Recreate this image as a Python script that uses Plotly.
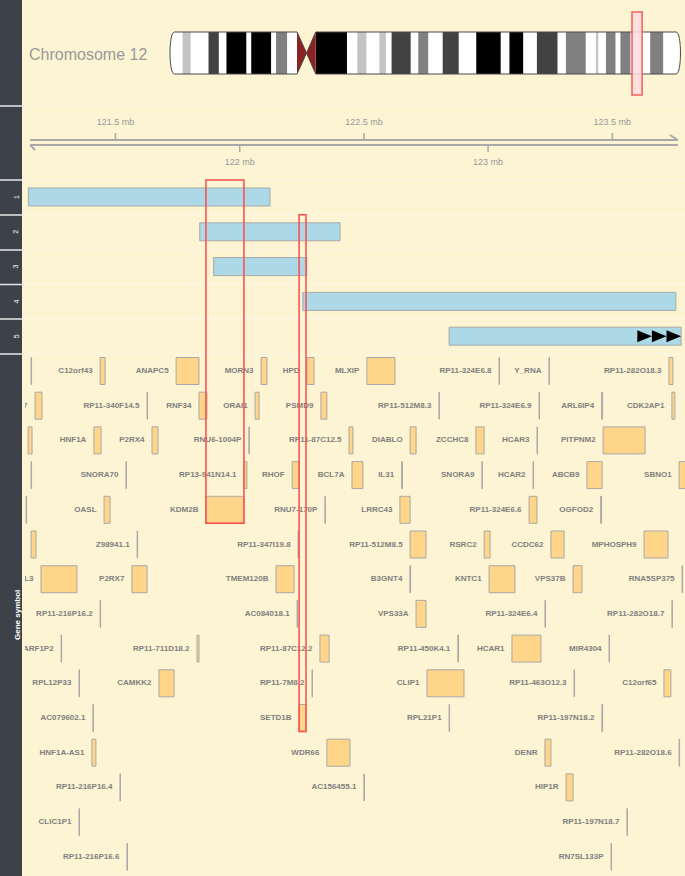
import plotly.graph_objects as go

BG = "#FCF4D2"
STRIP = "#3D4148"
GREY_TXT = "#808080"

# ---- chromosome 12 ideogram bands (Mb) ----
CHR_NAME = "Chromosome 12"
CHR_LEN = 133.85
BAND_START = [0.0, 3.3, 5.4, 10.1, 12.8, 14.8, 20.0, 21.3, 26.5, 27.8,
              30.7, 33.3, 35.8, 38.2, 46.4, 49.1, 51.5, 54.9, 56.6, 58.1,
              63.1, 65.1, 67.7, 71.5, 75.7, 80.3, 86.7, 89.0, 92.6, 96.2,
              101.6, 103.8, 109.0, 111.7, 112.3, 114.3, 116.8, 118.1, 120.7, 125.9,
              129.3]
BAND_END = BAND_START[1:] + [CHR_LEN]
BAND_STAIN = ["gneg", "gpos25", "gneg", "gpos75", "gneg", "gpos100", "gneg", "gpos100", "gneg", "gpos50",
              "gneg", "acen", "acen", "gpos100", "gneg", "gpos25", "gneg", "gpos25", "gneg", "gpos75",
              "gneg", "gpos50", "gneg", "gpos75", "gneg", "gpos100", "gneg", "gpos100", "gneg", "gpos75",
              "gneg", "gpos50", "gneg", "gpos25", "gneg", "gpos50", "gneg", "gpos50", "gneg", "gpos50",
              "gneg"]
BAND_LABEL = "q12"
STAIN_COL = {"gpos25": "#C4C4C4", "gpos50": "#808080", "gpos75": "#424242", "gpos100": "#000000"}

# ---- genomic window (Mb) ----
VIEW_START, VIEW_END = 121.1356, 123.7927
AXIS_START, AXIS_END = 121.156, 123.764
AXIS_TICKS = [121.5, 122.0, 122.5, 123.0, 123.5]
AXIS_LABELS = ["121.5 mb", "122 mb", "122.5 mb", "123 mb", "123.5 mb"]

# ---- numbered region tracks ----
TRACK_NAMES = ["1", "2", "3", "4", "5"]
TRACK_START = [121.149, 121.839, 121.895, 122.254, 122.843]
TRACK_END = [122.122, 122.404, 122.270, 123.756, 123.777]
TRACK_ARROWS = [0, 0, 0, 0, 3]

# ---- gene symbol track ----
GENE_NAMES = [
    "", "C12orf43", "ANAPC5", "MORN3", "HPD", "MLXIP", "RP11-324E6.8", "Y_RNA", "RP11-282O18.3",
    "RP11-173P15.7", "RP11-340F14.5", "RNF34", "ORAI1", "PSMD9", "RP11-512M8.3", "RP11-324E6.9", "ARL6IP4", "CDK2AP1",
    "", "HNF1A", "P2RX4", "RNU6-1004P", "RP11-87C12.5", "DIABLO", "ZCCHC8", "HCAR3", "PITPNM2",
    "", "SNORA70", "RP13-941N14.1", "RHOF", "BCL7A", "IL31", "SNORA9", "HCAR2", "ABCB9", "SBNO1",
    "", "OASL", "KDM2B", "RNU7-170P", "LRRC43", "RP11-324E6.6", "OGFOD2",
    "", "Z98941.1", "RP11-347I19.8", "RP11-512M8.5", "RSRC2", "CCDC62", "MPHOSPH9",
    "SPPL3", "P2RX7", "TMEM120B", "B3GNT4", "KNTC1", "VPS37B", "RNA5SP375",
    "RP11-216P16.2", "AC084018.1", "VPS33A", "RP11-324E6.4", "RP11-282O18.7",
    "ARF1P2", "RP11-711D18.2", "RP11-87C12.2", "RP11-450K4.1", "HCAR1", "MIR4304",
    "RPL12P33", "CAMKK2", "RP11-7M8.2", "CLIP1", "RP11-463O12.3", "C12orf65",
    "AC079602.1", "SETD1B", "RPL21P1", "RP11-197N18.2",
    "HNF1A-AS1", "WDR66", "DENR", "RP11-282O18.6",
    "RP11-216P16.4", "AC156455.1", "HIP1R",
    "CLIC1P1", "RP11-197N18.7",
    "RP11-216P16.6", "RN7SL133P",
]
GENE_START = [
    121.160, 121.438, 121.744, 122.086, 122.271, 122.512, 123.044, 123.245, 123.728,
    121.176, 121.627, 121.836, 122.062, 122.327, 122.802, 123.205, 123.457, 123.740,
    121.148, 121.413, 121.647, 122.037, 122.440, 122.686, 122.951, 123.197, 123.463,
    121.160, 121.542, 122.017, 122.211, 122.452, 122.652, 122.975, 123.181, 123.398, 123.769,
    121.140, 121.454, 121.864, 122.343, 122.645, 123.165, 123.453,
    121.160, 121.587, 122.235, 122.686, 122.984, 123.253, 123.628,
    121.200, 121.566, 122.146, 122.685, 123.004, 123.342, 123.781,
    121.438, 122.231, 122.710, 123.229, 123.740,
    121.281, 121.828, 122.323, 122.878, 123.096, 123.487,
    121.353, 121.675, 122.291, 122.754, 123.346, 123.708,
    121.409, 122.239, 122.843, 123.458,
    121.405, 122.351, 123.229, 123.769,
    121.518, 122.500, 123.314,
    121.353, 123.559,
    121.546, 123.495,
]
GENE_END = [
    121.162, 121.458, 121.836, 122.110, 122.299, 122.625, 123.046, 123.247, 123.744,
    121.204, 121.629, 121.868, 122.078, 122.351, 122.804, 123.207, 123.461, 123.752,
    121.164, 121.442, 121.671, 122.039, 122.456, 122.710, 122.984, 123.199, 123.632,
    121.162, 121.544, 122.029, 122.239, 122.496, 122.655, 122.977, 123.183, 123.459, 123.850,
    121.142, 121.478, 122.017, 122.345, 122.686, 123.197, 123.457,
    121.180, 121.589, 122.237, 122.750, 123.008, 123.306, 123.724,
    121.345, 121.627, 122.219, 122.688, 123.108, 123.378, 123.783,
    121.440, 122.233, 122.750, 123.231, 123.742,
    121.283, 121.836, 122.360, 122.881, 123.213, 123.489,
    121.355, 121.736, 122.293, 122.903, 123.348, 123.736,
    121.411, 122.267, 122.845, 123.461,
    121.421, 122.444, 123.253, 123.771,
    121.520, 122.502, 123.342,
    121.355, 123.561,
    121.548, 123.497,
]
GENE_ROW = ([1] * 9 + [2] * 9 + [3] * 9 + [4] * 10 + [5] * 7 + [6] * 7 + [7] * 7 + [8] * 5
            + [9] * 6 + [10] * 6 + [11] * 4 + [12] * 4 + [13] * 3 + [14] * 2 + [15] * 2)

# highlighted genes and the first numbered track their box starts at
HIGHLIGHT_GENES = ["KDM2B", "SETD1B"]
HIGHLIGHT_FROM_TRACK = [1, 2]

# ---- layout helpers (pixel units on the y axis) ----
W, H = 685, 876
ROW0, ROW_STEP, GENE_HALF = 371.0, 34.7, 13.5
TRACK0, TRACK_STEP, TRACK_HALF = 197.0, 34.8, 9.0
IDEO_TOP, IDEO_BOT = 32.0, 74.0
PX = (VIEW_END - VIEW_START) / (W - 25)   # Mb per pixel
LABEL_GAP = 7.5 * PX
FONT = "Liberation Sans, Arial, sans-serif"
CLEAR = "rgba(0,0,0,0)"


def row_y(r):
    return ROW0 + (r - 1) * ROW_STEP


def track_y(i):
    return TRACK0 + i * TRACK_STEP


fig = go.Figure()
shapes = []

# ---- left title strip ----
shapes.append(dict(type="rect", xref="paper", yref="paper", x0=0, x1=22 / W, y0=0, y1=1,
                   fillcolor=STRIP, line=dict(width=0), layer="above"))
for yy in [106, 180, 215, 250, 284.5, 319, 354]:
    shapes.append(dict(type="line", xref="paper", yref="y", x0=0, x1=22 / W, y0=yy, y1=yy,
                       line=dict(color="#E8E8E8", width=1.5), layer="above"))
    shapes.append(dict(type="line", xref="paper", yref="y", x0=22 / W, x1=1, y0=yy, y1=yy,
                       line=dict(color="rgba(255,255,255,0.45)", width=1), layer="above"))

# ---- ideogram ----
mid = (IDEO_TOP + IDEO_BOT) / 2
cap = 1.15
acen = [i for i, s in enumerate(BAND_STAIN) if s == "acen"]
c0, cm, c1 = BAND_START[acen[0]], BAND_END[acen[0]], BAND_END[acen[-1]]
p_arm = (f"M{cap},{IDEO_TOP} L{c0},{IDEO_TOP} L{cm},{mid} L{c0},{IDEO_BOT} L{cap},{IDEO_BOT} "
         f"C{-cap / 3},{IDEO_BOT} {-cap / 3},{IDEO_TOP} {cap},{IDEO_TOP} Z")
q_arm = (f"M{c1},{IDEO_TOP} L{CHR_LEN - cap},{IDEO_TOP} C{CHR_LEN + cap / 3},{IDEO_TOP} "
         f"{CHR_LEN + cap / 3},{IDEO_BOT} {CHR_LEN - cap},{IDEO_BOT} L{c1},{IDEO_BOT} L{cm},{mid} Z")
for p in (p_arm, q_arm):
    shapes.append(dict(type="path", xref="x2", yref="y", path=p, fillcolor="white",
                       line=dict(width=0), layer="above"))
for s, e, st in zip(BAND_START, BAND_END, BAND_STAIN):
    if st in STAIN_COL:
        shapes.append(dict(type="rect", xref="x2", yref="y", x0=s, x1=e, y0=IDEO_TOP, y1=IDEO_BOT,
                           fillcolor=STAIN_COL[st], line=dict(width=0), layer="above"))
shapes.append(dict(type="path", xref="x2", yref="y",
                   path=f"M{c0},{IDEO_TOP} L{cm},{mid} L{c0},{IDEO_BOT} Z",
                   fillcolor="#8B2323", line=dict(width=0), layer="above"))
shapes.append(dict(type="path", xref="x2", yref="y",
                   path=f"M{c1},{IDEO_TOP} L{cm},{mid} L{c1},{IDEO_BOT} Z",
                   fillcolor="#8B2323", line=dict(width=0), layer="above"))
for p in (p_arm, q_arm):
    shapes.append(dict(type="path", xref="x2", yref="y", path=p, fillcolor=CLEAR,
                       line=dict(color="#4A4A4A", width=1), layer="above"))
shapes.append(dict(type="rect", xref="x2", yref="y", x0=VIEW_START, x1=VIEW_END, y0=12, y1=95,
                   fillcolor="rgba(255,220,225,0.85)", line=dict(color="#F06060", width=1.5),
                   layer="above"))

q_idx = BAND_START.index(38.2)
fig.add_trace(go.Scatter(x=[(BAND_START[q_idx] + BAND_END[q_idx]) / 2], y=[mid], text=[BAND_LABEL],
                         mode="text", xaxis="x2", yaxis="y", hoverinfo="skip",
                         textfont=dict(family=FONT, size=5, color="white")))

# ---- genome axis ----
AX_COL = "#A9A9A9"
shapes += [
    dict(type="line", xref="x", yref="y", x0=AXIS_START, x1=AXIS_END, y0=140, y1=140,
         line=dict(color=AX_COL, width=2)),
    dict(type="line", xref="x", yref="y", x0=AXIS_START, x1=AXIS_END, y0=145, y1=145,
         line=dict(color=AX_COL, width=2)),
    dict(type="line", xref="x", yref="y", x0=AXIS_END, x1=AXIS_END - 8 * PX, y0=140, y1=135,
         line=dict(color=AX_COL, width=2)),
    dict(type="line", xref="x", yref="y", x0=AXIS_START, x1=AXIS_START + 5 * PX, y0=145, y1=150,
         line=dict(color=AX_COL, width=2)),
]
lab_y = []
for k, t in enumerate(AXIS_TICKS):
    if k % 2 == 0:
        shapes.append(dict(type="line", xref="x", yref="y", x0=t, x1=t, y0=133, y1=140,
                           line=dict(color=AX_COL, width=1.5)))
        lab_y.append(123)
    else:
        shapes.append(dict(type="line", xref="x", yref="y", x0=t, x1=t, y0=145, y1=152,
                           line=dict(color=AX_COL, width=1.5)))
        lab_y.append(163)
fig.add_trace(go.Scatter(x=AXIS_TICKS, y=lab_y, text=AXIS_LABELS, mode="text",
                         textposition="middle center", hoverinfo="skip",
                         textfont=dict(family=FONT, size=9, color="#9A9A9A")))

# ---- numbered tracks ----
for i, (s, e) in enumerate(zip(TRACK_START, TRACK_END)):
    yc = track_y(i)
    shapes.append(dict(type="rect", xref="x", yref="y", x0=s, x1=e, y0=yc - TRACK_HALF,
                       y1=yc + TRACK_HALF, fillcolor="#ADD8E6",
                       line=dict(color="#A9A9A9", width=1)))
    aw = 14.6 * PX
    for a in range(TRACK_ARROWS[i]):
        tip = e - a * aw
        shapes.append(dict(type="path", xref="x", yref="y",
                           path=f"M{tip - aw},{yc - 6} L{tip},{yc} L{tip - aw},{yc + 6} Z",
                           fillcolor="black", line=dict(width=0)))

# ---- genes ----
for s, e, r in zip(GENE_START, GENE_END, GENE_ROW):
    yc = row_y(r)
    shapes.append(dict(type="rect", xref="x", yref="y", x0=s, x1=e, y0=yc - GENE_HALF,
                       y1=yc + GENE_HALF, fillcolor="#FFD58A",
                       line=dict(color="#A9A9A9", width=1)))

lx, ly, lt = [], [], []
for n, s, r in zip(GENE_NAMES, GENE_START, GENE_ROW):
    if n:
        lx.append(s - LABEL_GAP)
        ly.append(row_y(r))
        lt.append(n)
fig.add_trace(go.Scatter(x=lx, y=ly, text=lt, mode="text", textposition="middle left",
                         cliponaxis=True, hoverinfo="skip",
                         textfont=dict(family=FONT, size=8, color=GREY_TXT, weight="bold")))

# ---- highlight boxes ----
for g, t in zip(HIGHLIGHT_GENES, HIGHLIGHT_FROM_TRACK):
    gi = GENE_NAMES.index(g)
    shapes.append(dict(type="rect", xref="x", yref="y", x0=GENE_START[gi], x1=GENE_END[gi],
                       y0=track_y(t - 1) - 17, y1=row_y(GENE_ROW[gi]) + GENE_HALF,
                       fillcolor=CLEAR, line=dict(color="#FF4A4A", width=1.5)))

# ---- strip and panel labels ----
annotations = [dict(x=27 / W, y=54, xref="paper", yref="y", text=CHR_NAME, showarrow=False,
                    xanchor="left", yanchor="middle",
                    font=dict(family=FONT, size=16, color="#9A9A9A"))]
for i, name in enumerate(TRACK_NAMES):
    annotations.append(dict(x=10.5 / W, y=track_y(i), xref="paper", yref="y", text=name,
                            showarrow=False, textangle=-90,
                            font=dict(family=FONT, size=7, color="white")))
annotations.append(dict(x=10.5 / W, y=615, xref="paper", yref="y", text="<b>Gene symbol</b>",
                        showarrow=False, textangle=-90,
                        font=dict(family=FONT, size=8, color="white")))

fig.update_layout(
    width=W, height=H,
    margin=dict(l=0, r=0, t=0, b=0),
    paper_bgcolor=BG, plot_bgcolor=CLEAR,
    showlegend=False,
    shapes=shapes,
    annotations=annotations,
    xaxis=dict(domain=[25 / W, 1], range=[VIEW_START, VIEW_END], visible=False, anchor="y"),
    xaxis2=dict(domain=[165 / W, 1], range=[-5 / 3.814, CHR_LEN + 4.5 / 3.814],
                visible=False, anchor="y"),
    yaxis=dict(domain=[0, 1], range=[H, 0], visible=False, anchor="x"),
)

fig.write_html("out.html", config={"displayModeBar": False},
               post_script="document.body.style.margin='0px';")
